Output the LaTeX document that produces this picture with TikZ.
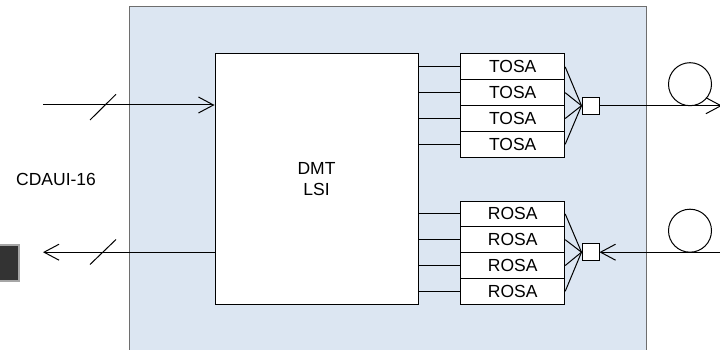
\documentclass[tikz,border=0pt]{standalone}
\usepackage{fontspec}
\setmainfont{Liberation Sans}
\usetikzlibrary{arrows.meta}
\definecolor{panel}{HTML}{DCE6F2}
\definecolor{panelline}{HTML}{6E6E6E}
\definecolor{plug}{HTML}{333333}
\begin{document}
\begin{tikzpicture}[x=1pt,y=-1pt,
  every node/.style={font=\fontsize{17.5}{21}\selectfont, inner sep=0pt},
  blk/.style={draw=black, fill=white, line width=1pt},
  osa/.style={blk, minimum width=104pt, minimum height=25.8pt},
  muxbox/.style={blk, minimum width=17pt, minimum height=17pt},
  wire/.style={line width=1pt},
  tip/.style={wire, -{Straight Barb[length=15pt,width=16pt,line width=1pt]}},
  fiber/.style={draw=black, line width=1pt, circle, minimum size=43pt}]
\useasboundingbox (0,0) rectangle (720,350);
\clip (0,0) rectangle (720,350);
% panel
\node[draw=panelline, fill=panel, line width=1pt, minimum width=517pt, minimum height=343pt] (panel) at (387.5,178.5) {};
% plug
\node[fill=plug, draw=gray!70, line width=1.2pt, minimum width=26pt, minimum height=36pt] (plug) at (6,263) {};
% DMT LSI
\node[blk, minimum width=203pt, minimum height=250pt, align=center] (dmt) at (316.5,179) {DMT\\LSI};
% TOSA / ROSA
\foreach \i/\y in {1/66.9,2/92.7,3/118.5,4/144.3}{
  \node[osa] (tosa\i) at (512.7,\y) {TOSA};
}
\foreach \i/\y in {1/213.9,2/239.7,3/265.5,4/291.3}{
  \node[osa] (rosa\i) at (512.7,\y) {ROSA};
}
\node[muxbox] (mux) at (590.5,105.7) {};
\node[muxbox] (demux) at (590.5,252.2) {};
\foreach \i in {1,...,4}{
  \draw[wire] (dmt.east |- tosa\i.west) -- (tosa\i.west);
  \draw[wire] (dmt.east |- rosa\i.west) -- (rosa\i.west);
  \draw[wire] (tosa\i.east) -- (mux.west);
  \draw[wire] (rosa\i.east) -- (demux.west);
}
% fibers
\coordinate (outR) at (722,105.7);
\coordinate (inR) at (725,252.2);
\draw[tip] (mux.east) -- (outR);
\draw[tip] (inR) -- (demux.east);
\node[fiber] (fib1) at (690,84.2) {};
\node[fiber] (fib2) at (690,230.7) {};
% electrical side
\coordinate (inL) at (43,105);
\coordinate (outL) at (43,252.2);
\draw[tip] (inL) -- (dmt.west |- inL);
\draw[tip] (dmt.west |- outL) -- (outL);
\coordinate (s1a) at (90,120);
\coordinate (s1b) at (116,94.3);
\coordinate (s2a) at (90,264.5);
\coordinate (s2b) at (116,239.5);
\draw[wire] (s1a) -- (s1b);
\draw[wire] (s2a) -- (s2b);
\node[anchor=west] (cdaui) at (16,179) {CDAUI-16};
\end{tikzpicture}
\end{document}
